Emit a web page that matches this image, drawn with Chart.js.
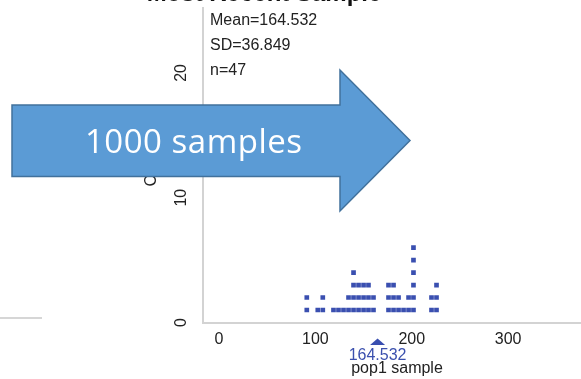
<!DOCTYPE html>
<html>
<head>
<meta charset="utf-8">
<script src="https://cdn.jsdelivr.net/npm/chart.js@4"></script>
<style>
  html, body { margin: 0; padding: 0; overflow: hidden; background: #fff; }
  #wrap { position: absolute; left: 0; top: 0; width: 600px; height: 379px; }
  #title { position: absolute; left: 0; top: -19.5px; width: 528px; text-align: center;
           font: bold 24px 'Liberation Sans', Arial, sans-serif; line-height: 24px; color: #111; }
  #stub { position: absolute; left: 0; top: 317px; width: 42px; height: 2px; background: #d6d6d6; }
  #arrow { position: absolute; left: 0; top: 0; pointer-events: none; }
</style>
</head>
<body>
<div id="wrap"><canvas id="dots"></canvas></div>
<div id="title">Most Recent Sample</div>
<div id="stub"></div>
<svg id="arrow" width="581" height="379">
  <polygon points="12,105 340,105 340,70 410,140.5 340,211 340,176.5 12,176.5"
           fill="#5b9bd5" stroke="#41719c" stroke-width="1.5"/>
  <text x="193.5" y="153" text-anchor="middle" fill="#fff"
        font-family="'Open Sans', sans-serif" font-size="33" textLength="217" lengthAdjust="spacing">1000 samples</text>
</svg>
<script>
// dot plot columns: value of each stack and how many dots
var binValues = [91.1, 102.5, 107.7, 118.8, 124.0, 129.2, 134.4, 139.6, 144.8, 150.0,
                 155.1, 160.3, 175.9, 181.1, 186.3, 191.5, 196.7, 201.8, 220.5, 225.7]
var binCounts = [2, 1, 2, 1, 1, 1, 2, 4, 3, 3,
                 3, 2, 3, 3, 2, 1, 2, 6, 2, 3]
var xTicks = [0, 100, 200, 300]
var yTicks = [0, 10, 20]
var sampleMean = 164.532
var sampleSD = 36.849
var sampleN = 47

var points = []
for (let i in binValues) {
    for (let k = 1; k <= binCounts[i]; k++) {
        points.push({x: binValues[i], y: k})
    }
}

var font = "'Liberation Sans', Arial, sans-serif"
var dotColor = '#3a4fb0'

// Mean / SD / n text in the corner of the plot, plus the mean marker under the axis
var extras = {
    id: 'extras',
    afterDraw(chart) {
        var ctx = chart.ctx
        var area = chart.chartArea
        var x = chart.scales.x.getPixelForValue(sampleMean)
        ctx.save()
        ctx.font = '16px ' + font
        ctx.fillStyle = '#222'
        ctx.textAlign = 'left'
        ctx.textBaseline = 'alphabetic'
        ctx.fillText('Mean=' + sampleMean.toFixed(3), area.left + 7, area.top + 17)
        ctx.fillText('SD=' + sampleSD.toFixed(3), area.left + 7, area.top + 42)
        ctx.fillText('n=' + sampleN, area.left + 7, area.top + 66.5)

        ctx.fillStyle = dotColor
        ctx.beginPath()
        ctx.moveTo(x, area.bottom + 16)
        ctx.lineTo(x + 7.5, area.bottom + 22.5)
        ctx.lineTo(x - 7.5, area.bottom + 22.5)
        ctx.closePath()
        ctx.fill()
        ctx.fillStyle = '#3b50ae'
        ctx.textAlign = 'center'
        ctx.fillText(sampleMean.toFixed(3), x, area.bottom + 37.5)
        ctx.restore()
    }
}

new Chart('dots', {
    type: 'scatter',
    data: {
        datasets: [{
            data: points,
            backgroundColor: dotColor,
            borderWidth: 0,
            pointStyle: 'rect',
            pointRadius: 3.3,
        }]
    },
    options: {
        responsive: true,
        maintainAspectRatio: false,
        animation: false,
        layout: {
            padding: {left: 0, right: 9, top: 8, bottom: 0}
        },
        plugins: {
            legend: {display: false},
            tooltip: {enabled: false},
        },
        scales: {
            x: {
                type: 'linear',
                min: -16.6,
                max: 386,
                afterBuildTicks: s => { s.ticks = xTicks.map(v => ({value: v})) },
                afterFit: s => { s.height = 56.5; s.paddingLeft = 0; s.paddingRight = 0 },
                grid: {display: false, drawTicks: false, tickLength: 0},
                border: {display: true, color: '#d3d3d3', width: 2},
                ticks: {
                    color: '#222',
                    font: {family: font, size: 16},
                    padding: 7.5,
                    maxRotation: 0,
                },
                title: {
                    display: true,
                    text: 'pop1 sample',
                    color: '#222',
                    font: {family: font, size: 16},
                    padding: {top: 0, bottom: 1},
                },
            },
            y: {
                type: 'linear',
                min: 0,
                max: 25.2,
                afterBuildTicks: s => { s.ticks = yTicks.map(v => ({value: v})) },
                afterFit: s => { s.width = 203; s.paddingTop = 0; s.paddingBottom = 0 },
                grid: {display: false, drawTicks: false, tickLength: 0},
                border: {display: true, color: '#d3d3d3', width: 2},
                ticks: {
                    color: '#222',
                    font: {family: font, size: 16},
                    padding: 13,
                    minRotation: 90,
                    maxRotation: 90,
                    crossAlign: 'center',
                },
                title: {
                    display: true,
                    text: 'Count',
                    color: '#222',
                    font: {family: font, size: 16},
                    padding: {top: 142, bottom: 0},
                },
            },
        },
    },
    plugins: [extras]
})
</script>
</body>
</html>
